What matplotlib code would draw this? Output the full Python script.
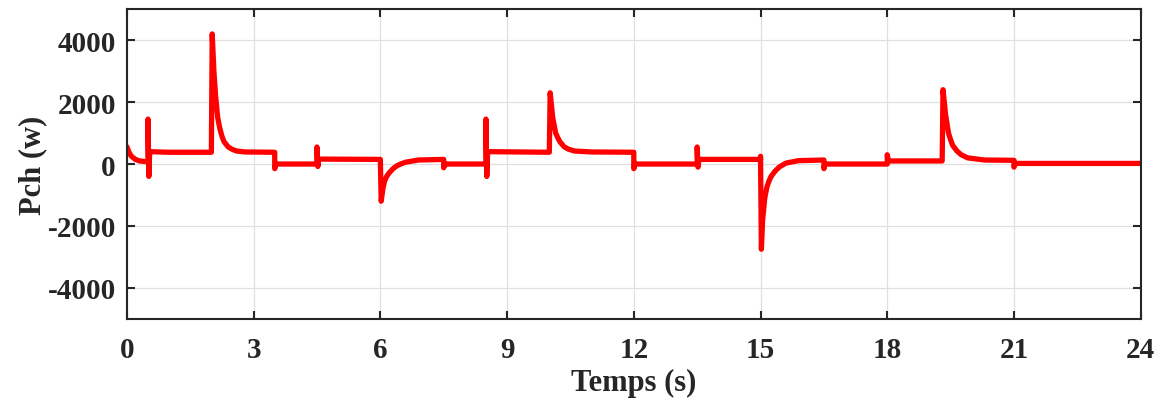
import matplotlib.pyplot as plt

# temps (s) et puissance Pch (w)
t = [0.00, 0.05, 0.10, 0.20, 0.30, 0.50,
     0.50, 0.52, 0.54, 1.00, 2.00,
     2.02, 2.06, 2.10, 2.15, 2.20, 2.25, 2.30, 2.40, 2.50, 2.60, 2.80, 3.50,
     3.50, 3.53, 4.50,
     4.50, 4.52, 4.54, 6.00,
     6.02, 6.06, 6.10, 6.15, 6.20, 6.30, 6.40, 6.50, 6.60, 6.90, 7.50,
     7.50, 7.53, 8.50,
     8.50, 8.52, 8.54, 10.00,
     10.02, 10.08, 10.15, 10.20, 10.25, 10.35, 10.45, 10.60, 11.00, 12.00,
     12.00, 12.03, 13.50,
     13.50, 13.52, 13.54, 15.00,
     15.00, 15.02, 15.05, 15.10, 15.15, 15.20, 15.25, 15.35, 15.45, 15.60, 15.90, 16.50,
     16.50, 16.53, 18.00,
     18.00, 18.03, 19.30,
     19.32, 19.38, 19.45, 19.50, 19.55, 19.65, 19.75, 19.90, 20.30, 21.00,
     21.00, 21.03, 24.00]
p = [560, 380, 260, 150, 100, 70,
     1450, -400, 400, 380, 380,
     4200, 3000, 2200, 1500, 1150, 900, 720, 550, 470, 420, 390, 380,
     -150, 0, 0,
     550, -80, 160, 150,
     -1200, -800, -550, -400, -300, -150, -50, 10, 60, 130, 150,
     -120, 0, 0,
     1450, -400, 400, 380,
     2300, 1500, 1000, 850, 720, 560, 480, 420, 390, 380,
     -150, 0, 0,
     550, -100, 150, 150,
     250, -2750, -1800, -1100, -750, -550, -400, -220, -90, 30, 110, 130,
     -150, 0, 0,
     300, 100, 100,
     2400, 1600, 1000, 780, 600, 420, 300, 200, 130, 120,
     -100, 20, 20]

xticks = [0, 3, 6, 9, 12, 15, 18, 21, 24]
yticks = [-4000, -2000, 0, 2000, 4000]

plt.rcParams['font.family'] = 'Liberation Serif'
plt.rcParams['font.weight'] = 'bold'
plt.rcParams['axes.unicode_minus'] = False

fig = plt.figure(figsize=(11.64, 4.06), dpi=100)
ax = fig.add_axes([0.109, 0.212, 0.871, 0.763])
ax.plot(t, p, color='#ff0000', lw=3.8, solid_joinstyle='round', solid_capstyle='round')

ax.set_xlim(0, 24)
ax.set_ylim(-5000, 5000)
ax.set_xticks(xticks)
ax.set_yticks(yticks)
ax.grid(color='#e0e0e0', linewidth=0.9)
ax.tick_params(direction='in', length=6, width=1.5, top=True, right=True,
               labelsize=21, colors='#262626')
ax.tick_params(axis='x', pad=12)
ax.tick_params(axis='y', pad=8)
for s in ax.spines.values():
    s.set_linewidth(1.5)
    s.set_color('#262626')

ax.set_xlabel('Temps (s)', fontsize=22, fontweight='bold', labelpad=4, color='#262626')
ax.set_ylabel('Pch (w)', fontsize=22, fontweight='bold', labelpad=0, color='#262626')

fig.savefig('out.png', dpi=100)
